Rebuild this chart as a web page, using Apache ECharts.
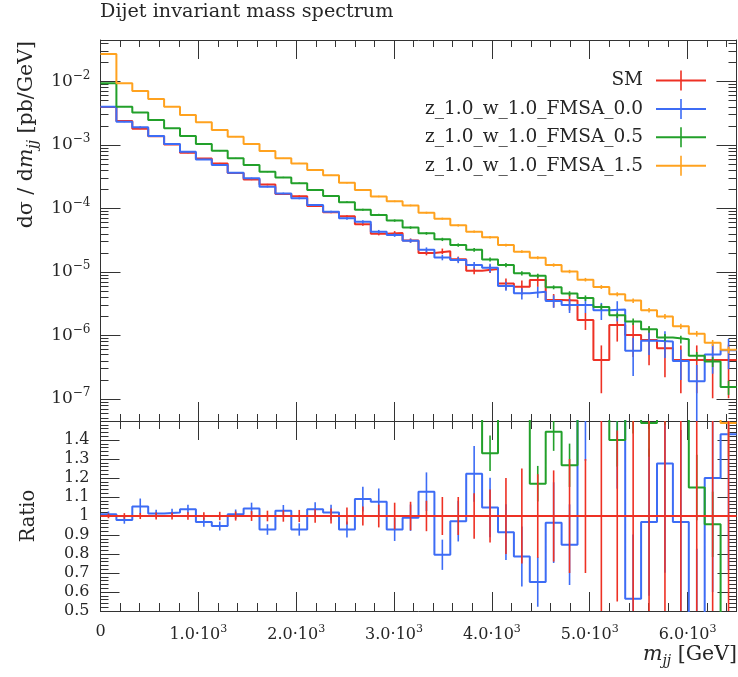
<!DOCTYPE html>
<html><head><meta charset="utf-8">
<script src="https://cdn.jsdelivr.net/npm/echarts@6/dist/echarts.min.js"></script>
<style>html,body{margin:0;padding:0;background:#fff}#c{width:738px;height:677px}</style>
</head><body><div id="c"></div>
<script>
// ---------------- data ----------------
const binEdges = [0,162.5,325,487.5,650,812.5,975,1137.5,1300,1462.5,1625,1787.5,1950,2112.5,2275,2437.5,2600,2762.5,2925,3087.5,3250,3412.5,3575,3737.5,3900,4062.5,4225,4387.5,4550,4712.5,4875,5037.5,5200,5362.5,5525,5687.5,5850,6012.5,6175,6337.5,6500];
const seriesNames = ['SM','z_1.0_w_1.0_FMSA_0.0','z_1.0_w_1.0_FMSA_0.5','z_1.0_w_1.0_FMSA_1.5'];
// dsigma/dm_jj [pb/GeV]
const smValues = [3.97e-3,2.38e-3,1.81e-3,1.37e-3,1.02e-3,7.59e-4,6.14e-4,5.12e-4,3.63e-4,2.87e-4,2.38e-4,1.69e-4,1.56e-4,1.10e-4,8.75e-5,7.53e-5,5.66e-5,4.02e-5,4.12e-5,3.14e-5,1.99e-5,2.13e-5,1.59e-5,1.05e-5,1.12e-5,6.59e-6,5.87e-6,7.48e-6,3.63e-6,3.55e-6,1.75e-6,4.11e-7,1.46e-6,1.02e-6,8.51e-7,6.31e-7,4.11e-7,4.11e-7,4.11e-7,4.11e-7];
const fmsa00Values = [4.01e-3,2.33e-3,1.90e-3,1.39e-3,1.04e-3,7.85e-4,5.94e-4,4.84e-4,3.66e-4,2.99e-4,2.21e-4,1.73e-4,1.45e-4,1.14e-4,8.91e-5,7.00e-5,6.17e-5,4.32e-5,3.83e-5,3.11e-5,2.24e-5,1.70e-5,1.55e-5,1.29e-5,1.17e-5,6.03e-6,4.62e-6,4.89e-6,3.51e-6,3.02e-6,3.02e-6,2.51e-6,2.57e-6,5.75e-7,8.24e-7,8.05e-7,3.98e-7,1.91e-7,5.01e-7,5.89e-7];
const fmsa05Values = [9.38e-3,4.01e-3,3.24e-3,2.48e-3,1.83e-3,1.39e-3,1.04e-3,8.13e-4,6.17e-4,4.84e-4,3.80e-4,3.09e-4,2.51e-4,1.95e-4,1.58e-4,1.26e-4,9.55e-5,7.94e-5,6.46e-5,5.01e-5,4.07e-5,3.27e-5,2.66e-5,2.24e-5,1.58e-5,1.29e-5,9.55e-6,8.71e-6,5.75e-6,4.57e-6,3.89e-6,2.82e-6,2.09e-6,1.66e-6,1.26e-6,9.33e-7,8.71e-7,4.79e-7,3.89e-7,1.55e-7];
const fmsa15Values = [2.71e-2,9.38e-3,7.08e-3,5.30e-3,4.01e-3,2.96e-3,2.28e-3,1.72e-3,1.35e-3,1.04e-3,8.05e-4,6.17e-4,5.14e-4,4.04e-4,3.33e-4,2.55e-4,1.95e-4,1.55e-4,1.30e-4,1.12e-4,8.59e-5,6.92e-5,5.43e-5,4.32e-5,3.53e-5,2.66e-5,2.09e-5,1.68e-5,1.29e-5,1.02e-5,7.59e-6,5.82e-6,4.47e-6,3.55e-6,2.51e-6,2.00e-6,1.40e-6,1.07e-6,7.67e-7,5.96e-7];
// relative uncertainties
const smRelErr = [0.012,0.015,0.016,0.018,0.018,0.02,0.02,0.022,0.024,0.026,0.028,0.03,0.032,0.036,0.04,0.045,0.05,0.06,0.07,0.075,0.08,0.1,0.1,0.12,0.14,0.2,0.25,0.22,0.24,0.3,0.3,0.7,0.45,0.55,0.6,0.65,0.7,0.7,0.75,0.75];
const fmsa00RelErr = [0.015,0.02,0.04,0.02,0.02,0.022,0.025,0.025,0.025,0.03,0.03,0.03,0.035,0.035,0.04,0.045,0.06,0.065,0.065,0.07,0.09,0.1,0.11,0.12,0.15,0.16,0.2,0.2,0.22,0.25,0.25,0.3,0.35,0.6,0.4,0.45,0.5,0.8,0.5,0.5];
const fmsa05RelErr = [0.01,0.012,0.012,0.014,0.014,0.016,0.016,0.018,0.02,0.02,0.022,0.024,0.026,0.028,0.03,0.032,0.035,0.04,0.042,0.045,0.05,0.06,0.06,0.065,0.07,0.075,0.08,0.08,0.07,0.09,0.1,0.1,0.1,0.12,0.12,0.13,0.14,0.15,0.18,0.25];
const fmsa15RelErr = [0.008,0.01,0.01,0.01,0.012,0.012,0.012,0.014,0.015,0.016,0.017,0.018,0.02,0.02,0.022,0.024,0.025,0.028,0.03,0.032,0.035,0.037,0.04,0.042,0.045,0.048,0.05,0.055,0.06,0.062,0.065,0.07,0.075,0.08,0.085,0.09,0.095,0.1,0.11,0.12];
// ratio to SM
const fmsa00Ratio = [1.009,0.979,1.05,1.013,1.018,1.036,0.968,0.947,1.009,1.039,0.929,1.027,0.929,1.036,1.018,0.929,1.089,1.075,0.929,0.991,1.128,0.796,0.973,1.222,1.045,0.915,0.787,0.653,0.965,0.849,1.72,6.1,1.76,0.564,0.968,1.276,0.968,0.46,1.2,1.43];
const fmsa05Ratio = [2.36,1.70,1.78,1.82,1.80,1.82,1.70,1.62,1.70,1.70,1.62,1.82,1.62,1.78,1.80,1.66,1.69,1.95,1.62,1.60,2.04,1.62,1.66,2.12,1.33,1.95,1.75,1.17,1.444,1.267,2.2,6.9,1.40,1.63,1.49,1.7,2.1,1.15,0.956,0.38];
const fmsa15Ratio = [6.8,3.94,3.91,3.87,3.93,3.90,3.71,3.36,3.72,3.62,3.38,3.65,3.30,3.67,3.81,3.39,3.45,3.86,3.16,3.57,4.32,3.25,3.42,4.12,3.15,4.04,3.56,2.25,3.55,2.88,4.34,14.2,3.06,3.48,2.95,3.17,3.41,2.60,1.87,1.49];
// tick labels
const xMajorTicks = [0,1000,2000,3000,4000,5000,6000];
const xTickLabels = ['0','{b|1.0·10}{s|3}','{b|2.0·10}{s|3}','{b|3.0·10}{s|3}','{b|4.0·10}{s|3}','{b|5.0·10}{s|3}','{b|6.0·10}{s|3}'];
const yLogMajorTicks = [-7,-6,-5,-4,-3,-2];
const yLogTickLabels = ['{b|10}{s|−7}','{b|10}{s|−6}','{b|10}{s|−5}','{b|10}{s|−4}','{b|10}{s|−3}','{b|10}{s|−2}'];
const ratioMajorTicks = [0.5,0.6,0.7,0.8,0.9,1.0,1.1,1.2,1.3,1.4,1.5];
const ratioTickLabels = ['0.5','0.6','0.7','0.8','0.9','1','1.1','1.2','1.3','1.4',''];

// ---------------- chart ----------------
const FONT = 'DejaVu Serif';
const TXT = '#262626';
const AX = '#333';
const COLORS = ['#ee3124','#3d6cf5','#22a02a','#ffa21f'];
const X_MIN = binEdges[0], X_MAX = binEdges[binEdges.length - 1];
const LOG_MIN = -7.346, LOG_MAX = -1.346;
const centers = binEdges.slice(0, -1).map((e, i) => (e + binEdges[i + 1]) / 2);
const lg = v => Math.log10(Math.max(v, 1e-14));
const idv = v => v;

const xMinor = []; for (let v = 0; v <= X_MAX; v += 200) xMinor.push(v);
const yLogMinor = [];
for (let n = -9; n <= -1; n++) for (let k = 2; k <= 9; k++) { const L = n + Math.log10(k); if (L > LOG_MIN && L < LOG_MAX) yLogMinor.push(L); }
const ratioMinor = []; for (let i = 25; i <= 75; i++) ratioMinor.push(+(i * 0.02).toFixed(2));

function lookup(vals, labels) {
  return v => { for (let i = 0; i < vals.length; i++) if (Math.abs(vals[i] - v) < 1e-6) return labels[i]; return ''; };
}
const supRich = {
  b: {fontFamily: FONT, fontSize: 16, lineHeight: 22, color: TXT},
  s: {fontFamily: FONT, fontSize: 11, lineHeight: 11, verticalAlign: 'top', color: TXT}
};

function xAx(grid, pos, ticks, len, line, label) {
  return {type: 'value', gridIndex: grid, position: pos, min: X_MIN, max: X_MAX,
    axisLine: {show: line, onZero: false, lineStyle: {color: AX, width: 1}},
    axisTick: {show: true, inside: true, length: len, customValues: ticks, lineStyle: {color: AX, width: 1}},
    axisLabel: label || {show: false}, splitLine: {show: false}, minorTick: {show: false}};
}
function yAx(grid, pos, min, max, ticks, len, line, label, extra) {
  return Object.assign({type: 'value', gridIndex: grid, position: pos, min, max,
    axisLine: {show: line, onZero: false, lineStyle: {color: AX, width: 1}},
    axisTick: {show: true, inside: true, length: len, customValues: ticks, lineStyle: {color: AX, width: 1}},
    axisLabel: label || {show: false}, splitLine: {show: false}, minorTick: {show: false}}, extra || {});
}

const xAxes = [
  xAx(0, 'bottom', xMinor, 7, true), xAx(0, 'bottom', xMajorTicks, 19, false),
  xAx(0, 'top', xMinor, 7, true), xAx(0, 'top', xMajorTicks, 19, false),
  xAx(1, 'bottom', xMinor, 8, true), xAx(1, 'bottom', xMajorTicks, 19, false,
    {show: true, customValues: xMajorTicks, formatter: lookup(xMajorTicks, xTickLabels), margin: 13,
     fontFamily: FONT, fontSize: 16, color: TXT, rich: supRich}),
  xAx(1, 'top', xMinor, 8, true), xAx(1, 'top', xMajorTicks, 19, false)
];
const yAxes = [
  yAx(0, 'left', LOG_MIN, LOG_MAX, yLogMinor, 8, true),
  yAx(0, 'left', LOG_MIN, LOG_MAX, yLogMajorTicks, 20, false,
    {show: true, customValues: yLogMajorTicks, formatter: lookup(yLogMajorTicks, yLogTickLabels), margin: 10,
     fontFamily: FONT, fontSize: 17, color: TXT,
     rich: {b: {fontFamily: FONT, fontSize: 17, lineHeight: 24, color: TXT}, s: {fontFamily: FONT, fontSize: 12, lineHeight: 12, verticalAlign: 'top', color: TXT}}}),
  yAx(0, 'right', LOG_MIN, LOG_MAX, yLogMinor, 8, true),
  yAx(0, 'right', LOG_MIN, LOG_MAX, yLogMajorTicks, 20, false),
  yAx(1, 'left', 0.5, 1.5, ratioMinor, 8, true),
  yAx(1, 'left', 0.5, 1.5, ratioMajorTicks, 19, false,
    {show: true, customValues: ratioMajorTicks, formatter: lookup(ratioMajorTicks, ratioTickLabels), margin: 11,
     fontFamily: FONT, fontSize: 16, color: TXT},
    {name: 'Ratio', nameLocation: 'middle', nameGap: 62, nameRotate: 90,
     nameTextStyle: {fontFamily: FONT, fontSize: 19.5, color: TXT}}),
  yAx(1, 'right', 0.5, 1.5, ratioMinor, 8, true),
  yAx(1, 'right', 0.5, 1.5, ratioMajorTicks, 19, false)
];

function stepSeries(name, vals, tf, color, xi, yi, z) {
  const data = vals.map((v, i) => [binEdges[i], tf(v)]);
  data.push([binEdges[binEdges.length - 1], tf(vals[vals.length - 1])]);
  return {type: 'line', name, xAxisIndex: xi, yAxisIndex: yi, step: 'end', data, symbol: 'none', showSymbol: false,
    clip: true, silent: true, z, lineStyle: {color, width: 2}, itemStyle: {color}, emphasis: {disabled: true}};
}
function errSeries(name, vals, rel, tf, color, xi, yi, z) {
  const data = vals.map((v, i) => [centers[i], tf(v * (1 - rel[i])), tf(v * (1 + rel[i]))]);
  return {type: 'custom', name, xAxisIndex: xi, yAxisIndex: yi, clip: true, silent: true, z,
    encode: {x: 0, y: [1, 2]}, data,
    renderItem(params, api) {
      const x = api.value(0);
      const p1 = api.coord([x, api.value(1)]), p2 = api.coord([x, api.value(2)]);
      return {type: 'line', shape: {x1: p1[0], y1: p1[1], x2: p2[0], y2: p2[1]}, style: {stroke: color, lineWidth: 1.6}};
    }};
}

const mainVals = [smValues, fmsa00Values, fmsa05Values, fmsa15Values];
const relErrs = [smRelErr, fmsa00RelErr, fmsa05RelErr, fmsa15RelErr];
const smRatio = smValues.map(v => v / v);
const ratioVals = [smRatio, fmsa00Ratio, fmsa05Ratio, fmsa15Ratio];

const series = [];
mainVals.forEach((vals, k) => {
  series.push(stepSeries(seriesNames[k], vals, lg, COLORS[k], 0, 0, 2 + k));
  series.push(errSeries(seriesNames[k] + ' err', vals, relErrs[k], lg, COLORS[k], 0, 0, 2 + k));
});
// ratio panel: reference (SM) drawn last
[1, 2, 3, 0].forEach((k, j) => {
  series.push(stepSeries(seriesNames[k] + ' ratio', ratioVals[k], idv, COLORS[k], 4, 4, 2 + j));
  series.push(errSeries(seriesNames[k] + ' ratio err', ratioVals[k], relErrs[k], idv, COLORS[k], 4, 4, 2 + j));
});

const PLUS = 'path://M0,9.1h50v1.8h-50z M24.2,1h1.6v18h-1.6z';
const titleRich = {
  n: {fontFamily: FONT, fontSize: 20.5, lineHeight: 26, fill: TXT},
  i: {fontFamily: FONT, fontSize: 20.5, fontStyle: 'italic', lineHeight: 26, fill: TXT},
  sub: {fontFamily: FONT, fontSize: 14, fontStyle: 'italic', lineHeight: 14, verticalAlign: 'bottom', fill: TXT}
};
const chart = echarts.init(document.getElementById('c'), null, {renderer: 'canvas'});
chart.setOption({
  animation: false,
  backgroundColor: '#fff',
  title: {text: 'Dijet invariant mass spectrum', left: 100, top: 3, padding: 0,
    textStyle: {fontFamily: FONT, fontSize: 19.2, fontWeight: 'normal', color: TXT}},
  legend: {orient: 'vertical', right: 32, top: 70.5, padding: 0, align: 'right', itemWidth: 50, itemHeight: 20, itemGap: 8.4,
    selectedMode: false, symbolKeepAspect: false,
    data: seriesNames.map(n => ({name: n, icon: PLUS})),
    textStyle: {fontFamily: FONT, fontSize: 18.5, lineHeight: 20, color: TXT, padding: [0, 8, 0, 0]}},
  grid: [
    {left: 100.5, right: 1.5, top: 40, height: 381, outerBoundsMode: 'none'},
    {left: 100.5, right: 1.5, top: 421, height: 190, outerBoundsMode: 'none'}
  ],
  xAxis: xAxes,
  yAxis: yAxes,
  series,
  graphic: [
    {type: 'text', x: 27, y: 41, rotation: Math.PI / 2, silent: true,
     style: {text: '{n|dσ / d}{i|m}{sub|jj}{n| [pb/GeV]}', align: 'right', verticalAlign: 'middle', rich: titleRich}},
    {type: 'text', x: 737, y: 655, silent: true,
     style: {text: '{i|m}{sub|jj}{n| [GeV]}', align: 'right', verticalAlign: 'middle', rich: titleRich}}
  ]
});
</script></body></html>
